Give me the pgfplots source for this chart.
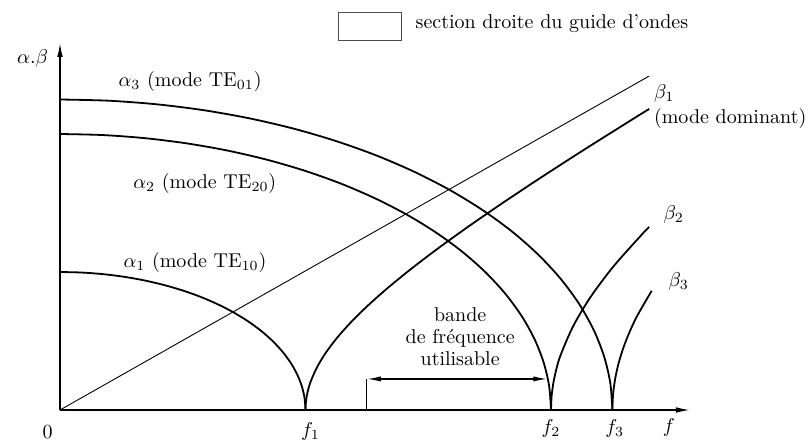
\documentclass[border=0pt]{standalone}
\usepackage{pgfplots}
\pgfplotsset{compat=1.18}
\usetikzlibrary{arrows.meta}

\begin{document}
\begin{tikzpicture}
\useasboundingbox (-30pt,-15.5pt) rectangle (374pt,205pt);
\begin{axis}[
  at={(0,0)}, anchor=origin,
  x=122.75pt, y=69pt,
  xmin=0, xmax=2.566, ymin=0, ymax=2.66,
  axis lines=left,
  every outer x axis line/.append style={line width=0.7pt,-{Latex[length=7pt,width=2.8pt]}},
  every outer y axis line/.append style={line width=0.7pt,-{Latex[length=7pt,width=2.8pt]}},
  xtick=\empty, ytick=\empty,
  clip=false,
  every axis plot/.append style={black},
]
% attenuation below cutoff: alpha_n = sqrt(fc^2 - f^2)
\addplot[line width=0.9pt, smooth] coordinates {
 (0,1) (0.0872,0.9962) (0.1736,0.9848) (0.2588,0.9659) (0.3420,0.9397)
 (0.4226,0.9063) (0.5,0.8660) (0.5736,0.8192) (0.6428,0.7660) (0.7071,0.7071)
 (0.7660,0.6428) (0.8192,0.5736) (0.8660,0.5) (0.9063,0.4226) (0.9397,0.3420)
 (0.9659,0.2588) (0.9848,0.1736) (0.9962,0.0872) (1,0)};
\addplot[line width=0.9pt, smooth] coordinates {
 (0,2) (0.1744,1.9924) (0.3472,1.9696) (0.5176,1.9318) (0.6840,1.8794)
 (0.8452,1.8126) (1.0,1.7321) (1.1472,1.6384) (1.2856,1.5320) (1.4142,1.4142)
 (1.5320,1.2856) (1.6384,1.1472) (1.7321,1.0) (1.8126,0.8452) (1.8794,0.6840)
 (1.9318,0.5176) (1.9696,0.3472) (1.9924,0.1744) (2,0)};
\addplot[line width=0.9pt, smooth] coordinates {
 (0,2.25) (0.1962,2.2415) (0.3906,2.2158) (0.5823,2.1733) (0.7695,2.1143)
 (0.9509,2.0392) (1.125,1.9485) (1.2906,1.8432) (1.4463,1.7235) (1.5910,1.5910)
 (1.7235,1.4463) (1.8432,1.2906) (1.9485,1.125) (2.0392,0.9509) (2.1143,0.7695)
 (2.1733,0.5823) (2.2158,0.3906) (2.2415,0.1962) (2.25,0)};
% phase constant above cutoff: beta_n = sqrt(f^2 - fc^2)
\addplot[line width=0.9pt, smooth] coordinates {
 (1,0) (1.00125,0.05002) (1.005,0.10017) (1.01127,0.15056) (1.02007,0.20134)
 (1.04534,0.30452) (1.08107,0.41075) (1.12763,0.52110) (1.18547,0.63665)
 (1.25517,0.75858) (1.33743,0.88811) (1.43309,1.02652) (1.54308,1.17520)
 (1.66852,1.33565) (1.81066,1.50946) (1.97091,1.69838) (2.15090,1.90430)
 (2.35241,2.12928) (2.40,2.1817)};
\addplot[line width=0.9pt, smooth] coordinates {
 (2,0) (2.0025,0.10004) (2.01,0.20034) (2.02254,0.30112) (2.04014,0.40268)
 (2.09068,0.60904) (2.16214,0.82150) (2.25526,1.04220) (2.37094,1.27330) (2.40,1.3266)};
\addplot[line width=0.9pt, smooth] coordinates {
 (2.25,0) (2.25281,0.11255) (2.26125,0.22538) (2.27536,0.33876) (2.29516,0.45302)
 (2.32067,0.56837) (2.35202,0.68517) (2.41,0.8635)};
% free-space line
\addplot[line width=0.45pt] coordinates {(0,0) (2.40,2.42)};
% usable band
\addplot[line width=0.5pt] coordinates {(1.25,0) (1.25,0.225)};
\draw[line width=0.7pt, {Latex[length=7pt,width=2.6pt]}-{Latex[length=7pt,width=2.6pt]}]
  (axis cs:1.25,0.225) -- (axis cs:1.985,0.225);
\node[align=center, font=\normalsize, inner sep=0pt] at (axis cs:1.63,0.53)
  {bande\\[-1pt]de fréquence\\[-1pt]utilisable};
% labels
\node[anchor=east] at (axis cs:-0.02,2.55) {$\alpha.\beta$};
\node[anchor=north] at (axis cs:-0.05,-0.06) {$0$};
\node[anchor=north] at (axis cs:1.02,-0.04) {$f_1$};
\node[anchor=north] at (axis cs:2.0,-0.015) {$f_2$};
\node[anchor=north] at (axis cs:2.26,-0.015) {$f_3$};
\node[anchor=north] at (axis cs:2.48,-0.01) {$f$};
\node at (axis cs:0.53,2.38) {$\alpha_3$ (mode TE$_{01}$)};
\node at (axis cs:0.59,1.64) {$\alpha_2$ (mode TE$_{20}$)};
\node at (axis cs:0.55,1.07) {$\alpha_1$ (mode TE$_{10}$)};
\node[anchor=west, inner sep=1pt] at (axis cs:2.41,2.29) {$\beta_1$};
\node[anchor=west, inner sep=1pt] at (axis cs:2.41,2.11) {(mode dominant)};
\node[anchor=west] at (axis cs:2.43,1.42) {$\beta_2$};
\node[anchor=west] at (axis cs:2.45,0.93) {$\beta_3$};
% cross-section legend
\draw[line width=0.4pt, black!70] (axis cs:1.132,2.681) rectangle (axis cs:1.389,2.884);
\node[anchor=west] at (axis cs:1.42,2.80) {section droite du guide d'ondes};
\end{axis}
\end{tikzpicture}
\end{document}
